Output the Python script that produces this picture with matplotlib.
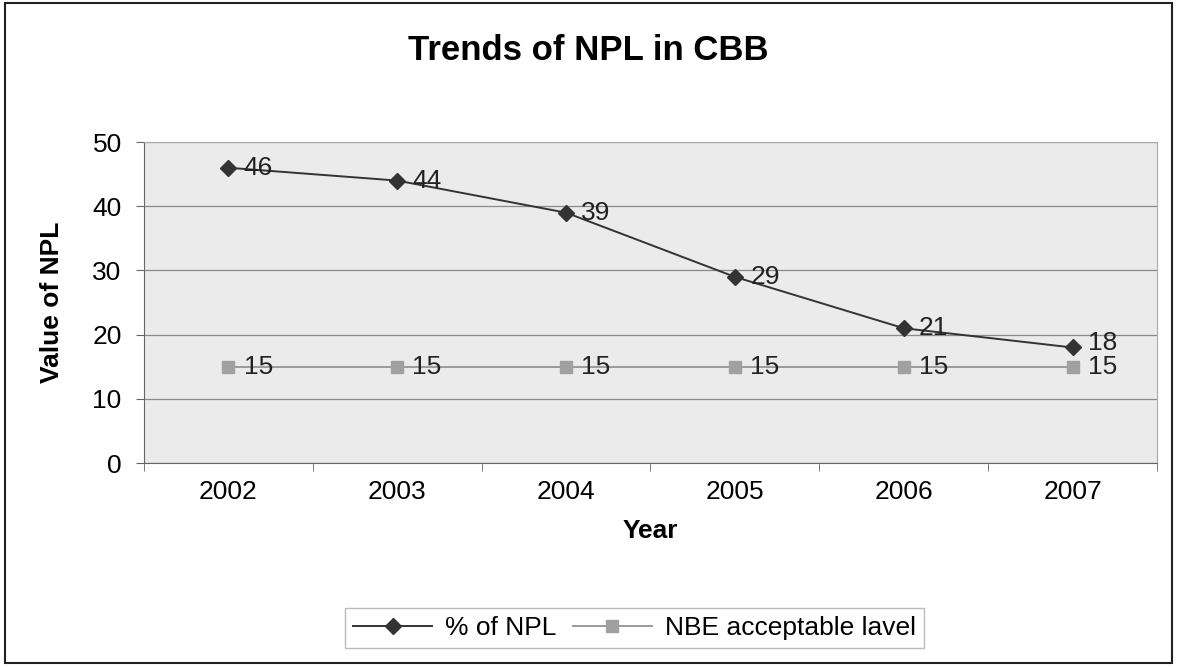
import matplotlib.pyplot as plt
from matplotlib.patches import Rectangle

years = ['2002', '2003', '2004', '2005', '2006', '2007']
npl = [46, 44, 39, 29, 21, 18]
nbe = [15, 15, 15, 15, 15, 15]

plt.rcParams['font.family'] = ['Liberation Sans', 'DejaVu Sans']

fig = plt.figure(figsize=(11.77, 6.67), dpi=100)
ax = fig.add_axes([0.1223, 0.3058, 0.8607, 0.4812])
ax.set_facecolor('#ebebeb')

x = list(range(len(years)))
ax.plot(x, npl, color='#333333', lw=1.4, marker='D', ms=8, mfc='#333333', mec='#333333', label='% of NPL')
ax.plot(x, nbe, color='#9a9a9a', lw=1.4, marker='s', ms=9, mfc='#a0a0a0', mec='#a0a0a0', label='NBE acceptable lavel')

for i in x:
    dy = 3 if i == len(x) - 1 else 0
    ax.annotate(str(npl[i]), (i, npl[i]), xytext=(11, dy), textcoords='offset points',
                va='center', ha='left', fontsize=19, color='#222222')
    ax.annotate(str(nbe[i]), (i, nbe[i]), xytext=(11, 0), textcoords='offset points',
                va='center', ha='left', fontsize=19, color='#222222')

ax.set_xlim(-0.5, 5.5)
ax.set_ylim(0, 50)
ax.set_yticks(range(0, 51, 10))
ax.set_xticks(x)
ax.set_xticklabels(years)
ax.set_xticks([i - 0.5 for i in range(7)], minor=True)
ax.tick_params(axis='x', which='major', length=0, pad=12, labelsize=19)
ax.tick_params(axis='x', which='minor', length=6, color='#666666')
ax.tick_params(axis='y', length=6, color='#666666', labelsize=19, pad=10)
ax.grid(axis='y', color='#8a8a8a', lw=0.9)
ax.set_axisbelow(True)
for s in ['top', 'right']:
    ax.spines[s].set_color('#aaaaaa')
for s in ['left', 'bottom']:
    ax.spines[s].set_color('#666666')

ax.set_xlabel('Year', fontsize=19, fontweight='bold')
ax.xaxis.set_label_coords(0.5, -0.1745)
ax.set_ylabel('Value of NPL', fontsize=19, fontweight='bold')
ax.yaxis.set_label_coords(-0.079, 0.5)
fig.text(0.5, 0.925, 'Trends of NPL in CBB', ha='center', va='center', fontsize=25, fontweight='bold')

leg = fig.legend(loc='center', bbox_to_anchor=(0.539, 0.058), ncol=2, fontsize=19,
                 frameon=True, fancybox=False, edgecolor='#aaaaaa', handlelength=3.0,
                 columnspacing=0.6, handletextpad=0.5, borderpad=0.3)

fig.patches.append(Rectangle((0.004, 0.006), 0.992, 0.99, transform=fig.transFigure,
                             fill=False, edgecolor='#222222', lw=1.5))

fig.savefig('out.png', dpi=100)
